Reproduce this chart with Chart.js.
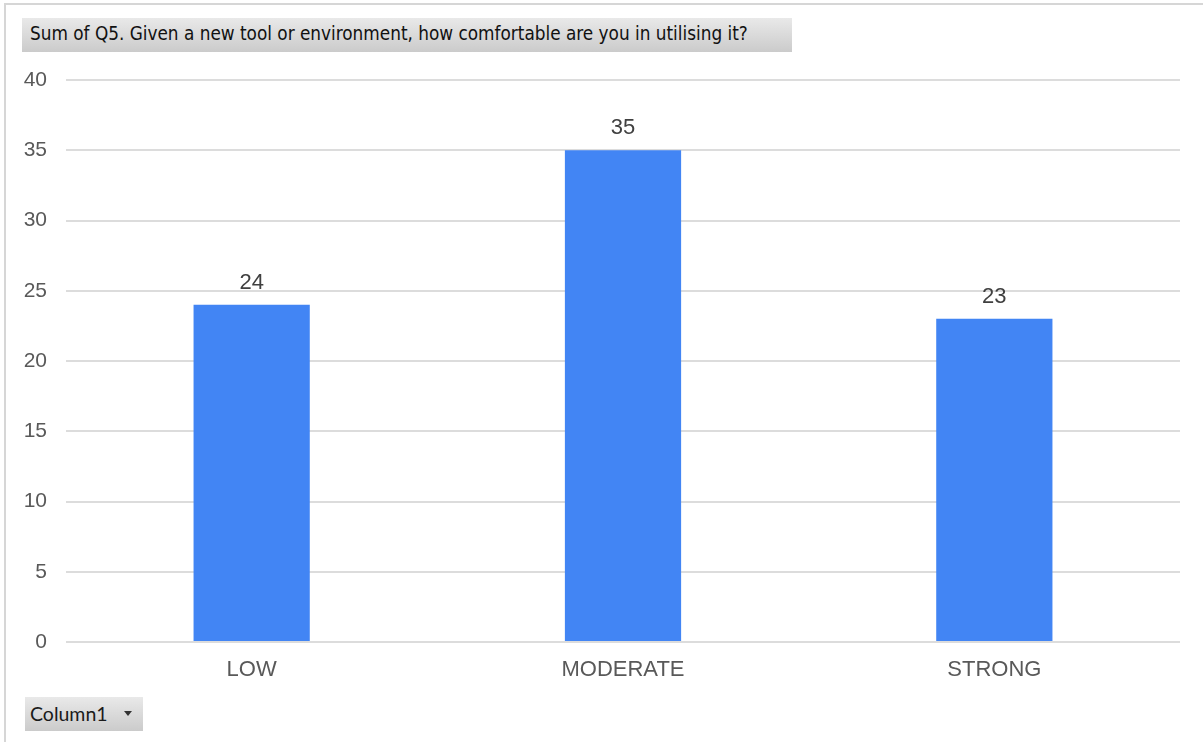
<!DOCTYPE html>
<html>
<head>
<meta charset="utf-8">
<script src="https://cdn.jsdelivr.net/npm/chart.js@4"></script>
<style>
  html, body { margin: 0; padding: 0; background: #fff; }
  #wrap { position: relative; width: 1203px; height: 742px; overflow: hidden; }
  #frame { position: absolute; left: 4px; top: 3px; width: 1220px; height: 760px;
           border-top: 2px solid #d6d6d6; border-left: 2px solid #d6d6d6; }
  #chart { position: absolute; left: 0; top: 0; }
  .btn { position: absolute; background: linear-gradient(#e9e9e9, #cbcbcb);
         color: #111; white-space: nowrap; box-sizing: border-box; }
  #title { left: 22px; top: 18px; width: 770px; height: 34px; padding: 5px 0 0 8px;
           font: 18.8px "DejaVu Sans Condensed", "DejaVu Sans", sans-serif; }
  #col { left: 25px; top: 697px; width: 118px; height: 34px; padding: 5px 0 0 5px;
         font: 19.5px Lato, "Open Sans", sans-serif; color: #1a1a1a; }
  #col span { position: absolute; left: 99px; top: 14px; width: 0; height: 0;
              border-left: 4.5px solid transparent; border-right: 4.5px solid transparent;
              border-top: 5px solid #333; }
</style>
</head>
<body>
<div id="wrap">
  <div id="frame"></div>
  <canvas id="chart" width="1203" height="742"></canvas>
  <div id="title" class="btn">Sum of Q5. Given a new tool or environment, how comfortable are you in utilising it?</div>
  <div id="col" class="btn">Column1<span></span></div>
</div>
<script>
const categories = ["LOW", "MODERATE", "STRONG"];
const values = [24, 35, 23];
const yTicks = [0, 5, 10, 15, 20, 25, 30, 35, 40];

// draws the number above each bar
const barLabels = {
  id: "barLabels",
  afterDatasetsDraw(chart) {
    const c = chart.ctx;
    const meta = chart.getDatasetMeta(0);
    c.save();
    c.font = "22px 'Liberation Sans', Arial, sans-serif";
    c.fillStyle = "#404040";
    c.textAlign = "center";
    c.textBaseline = "bottom";
    meta.data.forEach((bar, i) => {
      c.fillText(values[i], bar.x, bar.y - 11);
    });
    c.restore();
  }
};

const ctx = document.getElementById("chart").getContext("2d");

const chart = new Chart(ctx, {
  type: "bar",
  data: {
    labels: categories,
    datasets: [{
      data: values,
      backgroundColor: "#4285f4",
      categoryPercentage: 1,
      barPercentage: 0.313
    }]
  },
  options: {
    responsive: false,
    animation: false,
    layout: { padding: { left: 0, top: 80, right: 23, bottom: 55 } },
    plugins: {
      legend: { display: false },
      tooltip: { enabled: false }
    },
    scales: {
      x: {
        grid: { display: false, drawTicks: false },
        border: { display: false },
        ticks: {
          padding: 15,
          color: "#595959",
          font: { family: "'Liberation Sans', Arial, sans-serif", size: 22 }
        },
        afterFit: (s) => { s.height = 45; }
      },
      y: {
        min: 0,
        max: 40,
        afterBuildTicks: (s) => { s.ticks = yTicks.map(v => ({ value: v })); },
        grid: { color: "#dcdcdc", lineWidth: 2, drawTicks: false },
        border: { display: false },
        ticks: {
          padding: 19,
          color: "#595959",
          font: { family: "'Liberation Sans', Arial, sans-serif", size: 21 }
        },
        afterFit: (s) => { s.width = 66; }
      }
    }
  },
  plugins: [barLabels]
});
</script>
</body>
</html>
